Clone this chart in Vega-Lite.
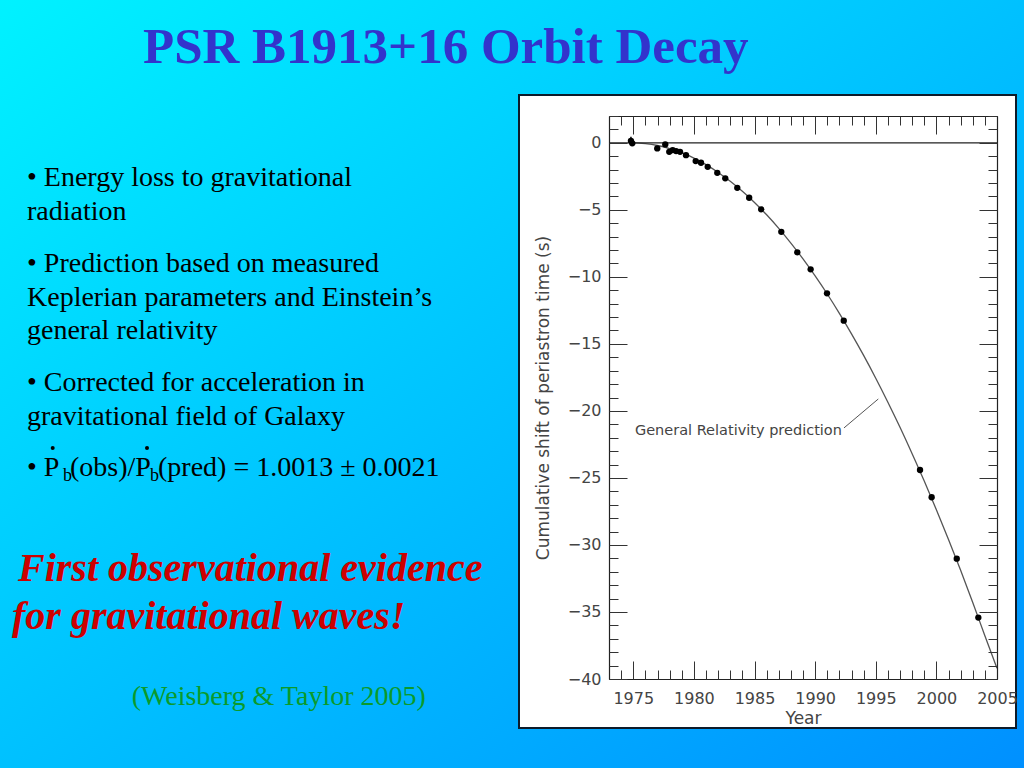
{
  "$schema": "https://vega.github.io/schema/vega-lite/v6.json",
  "width": 1024,
  "height": 768,
  "autosize": {"type": "fit", "contains": "padding"},
  "padding": 0,
  "background": "#00C4FF",
  "view": {
    "stroke": null,
    "fill": {
      "gradient": "linear", "x1": 0, "y1": 0, "x2": 1, "y2": 1,
      "stops": [{"offset": 0, "color": "#00F2FF"}, {"offset": 1, "color": "#0090FF"}]
    }
  },
  "config": {"axis": {"zindex": 2}},
  "datasets": {
    "title": [{"k": 0, "t": "PSR B1913+16 Orbit Decay"}],
    "bullets": [
      {"k": 1, "t": "• Energy loss to gravitational"},
      {"k": 2, "t": "radiation"},
      {"k": 3, "t": "• Prediction based on measured"},
      {"k": 4, "t": "Keplerian parameters and Einstein’s"},
      {"k": 5, "t": "general relativity"},
      {"k": 6, "t": "• Corrected for acceleration in"},
      {"k": 7, "t": "gravitational field of Galaxy"},
      {"k": 8, "t": "• P"},
      {"k": 10, "t": "(obs)/P"},
      {"k": 12, "t": "(pred) = 1.0013 ± 0.0021"}
    ],
    "subs": [{"k": 9, "t": "b"}, {"k": 11, "t": "b"}],
    "dots": [{"k": 13}, {"k": 14}],
    "red": [
      {"k": 15, "t": "First observational evidence"},
      {"k": 16, "t": "for gravitational waves!"}
    ],
    "cite": [{"k": 17, "t": "(Weisberg & Taylor 2005)"}],
    "curve": [
      {"year": 1974.86, "shift": 0}, {"year": 1975, "shift": 0}, {"year": 1976, "shift": -0.06},
      {"year": 1977, "shift": -0.2}, {"year": 1978, "shift": -0.43}, {"year": 1979, "shift": -0.74},
      {"year": 1980, "shift": -1.14}, {"year": 1981, "shift": -1.63}, {"year": 1982, "shift": -2.21},
      {"year": 1983, "shift": -2.87}, {"year": 1984, "shift": -3.62}, {"year": 1985, "shift": -4.45},
      {"year": 1986, "shift": -5.37}, {"year": 1987, "shift": -6.38}, {"year": 1988, "shift": -7.48},
      {"year": 1989, "shift": -8.66}, {"year": 1990, "shift": -9.93}, {"year": 1991, "shift": -11.28},
      {"year": 1992, "shift": -12.72}, {"year": 1993, "shift": -14.25}, {"year": 1994, "shift": -15.86},
      {"year": 1995, "shift": -17.56}, {"year": 1996, "shift": -19.35}, {"year": 1997, "shift": -21.22},
      {"year": 1998, "shift": -23.19}, {"year": 1999, "shift": -25.23}, {"year": 2000, "shift": -27.37},
      {"year": 2001, "shift": -29.59}, {"year": 2002, "shift": -31.89}, {"year": 2003, "shift": -34.29},
      {"year": 2004, "shift": -36.77}, {"year": 2005, "shift": -39.2}
    ],
    "zero": [{"year": 1973, "shift": 0}, {"year": 2005, "shift": 0}],
    "obs": [
      {"year": 1974.81, "shift": 0.15}, {"year": 1974.92, "shift": -0.04}, {"year": 1976.98, "shift": -0.42},
      {"year": 1977.64, "shift": -0.12}, {"year": 1977.97, "shift": -0.67}, {"year": 1978.25, "shift": -0.54},
      {"year": 1978.53, "shift": -0.62}, {"year": 1978.86, "shift": -0.67}, {"year": 1979.35, "shift": -0.92},
      {"year": 1980.15, "shift": -1.36}, {"year": 1980.59, "shift": -1.49}, {"year": 1981.14, "shift": -1.79},
      {"year": 1981.93, "shift": -2.24}, {"year": 1982.59, "shift": -2.65}, {"year": 1983.58, "shift": -3.36},
      {"year": 1984.56, "shift": -4.1}, {"year": 1985.55, "shift": -4.96}, {"year": 1987.21, "shift": -6.64},
      {"year": 1988.53, "shift": -8.17}, {"year": 1989.63, "shift": -9.44}, {"year": 1990.98, "shift": -11.23},
      {"year": 1992.36, "shift": -13.27}, {"year": 1998.65, "shift": -24.41}, {"year": 1999.61, "shift": -26.44},
      {"year": 2001.68, "shift": -31.02}, {"year": 2003.46, "shift": -35.42}
    ],
    "err": [
      {"year": 1974.81, "lo": -0.15, "hi": 0.45},
      {"year": 1976.98, "lo": -0.6, "hi": -0.24}
    ],
    "note": [{"year": 1975.14, "shift": -21.83, "label": "General Relativity prediction"}],
    "leader": [{"year": 1992.38, "shift": -21.27, "year2": 1995.21, "shift2": -19.11}]
  },
  "layer": [
    {
      "layer": [
        {
          "data": {"values": [{"item": "panel"}]},
          "mark": {"type": "rect", "fill": "white", "stroke": "#0d1b2a", "strokeWidth": 2},
          "encoding": {
            "x": {"datum": 18, "type": "quantitative", "axis": null,
              "scale": {"domain": [0,1,2,3,4,5,6,7,8,9,10,11,12,13,14,15,16,17,18,19], "range": [143,27,27,27,27,27,27,27,27,63,70,150,158,52.7,147,18,12,131.7,519,1016], "zero": false, "nice": false}},
            "x2": {"datum": 19},
            "y": {"datum": 18, "type": "quantitative", "axis": null,
              "scale": {"domain": [0,1,2,3,4,5,6,7,8,9,10,11,12,13,14,15,16,17,18,19], "range": [63,186,220,272,306,339,391,425,476,481,476,481,476,448,448,581,629,705,95,728], "zero": false, "nice": false}},
            "y2": {"datum": 19}
          }
        },
        {
          "data": {"name": "title"},
          "mark": {"type": "text", "font": "Liberation Serif", "fontSize": 51, "fontWeight": "bold", "color": "#3333CC", "align": "left", "baseline": "alphabetic"},
          "encoding": {
            "x": {"field": "k", "type": "quantitative", "axis": null,
              "scale": {"domain": [0,1,2,3,4,5,6,7,8,9,10,11,12,13,14,15,16,17,18,19], "range": [143,27,27,27,27,27,27,27,27,63,70,150,158,52.7,147,18,12,131.7,519,1016], "zero": false, "nice": false}},
            "y": {"field": "k", "type": "quantitative", "axis": null,
              "scale": {"domain": [0,1,2,3,4,5,6,7,8,9,10,11,12,13,14,15,16,17,18,19], "range": [63,186,220,272,306,339,391,425,476,481,476,481,476,448,448,581,629,705,95,728], "zero": false, "nice": false}},
            "text": {"field": "t"}
          }
        },
        {
          "data": {"name": "bullets"},
          "mark": {"type": "text", "font": "Liberation Serif", "fontSize": 28, "color": "black", "align": "left", "baseline": "alphabetic"},
          "encoding": {
            "x": {"field": "k", "type": "quantitative", "axis": null,
              "scale": {"domain": [0,1,2,3,4,5,6,7,8,9,10,11,12,13,14,15,16,17,18,19], "range": [143,27,27,27,27,27,27,27,27,63,70,150,158,52.7,147,18,12,131.7,519,1016], "zero": false, "nice": false}},
            "y": {"field": "k", "type": "quantitative", "axis": null,
              "scale": {"domain": [0,1,2,3,4,5,6,7,8,9,10,11,12,13,14,15,16,17,18,19], "range": [63,186,220,272,306,339,391,425,476,481,476,481,476,448,448,581,629,705,95,728], "zero": false, "nice": false}},
            "text": {"field": "t"}
          }
        },
        {
          "data": {"name": "subs"},
          "mark": {"type": "text", "font": "Liberation Serif", "fontSize": 18, "color": "black", "align": "left", "baseline": "alphabetic"},
          "encoding": {
            "x": {"field": "k", "type": "quantitative", "axis": null,
              "scale": {"domain": [0,1,2,3,4,5,6,7,8,9,10,11,12,13,14,15,16,17,18,19], "range": [143,27,27,27,27,27,27,27,27,63,70,150,158,52.7,147,18,12,131.7,519,1016], "zero": false, "nice": false}},
            "y": {"field": "k", "type": "quantitative", "axis": null,
              "scale": {"domain": [0,1,2,3,4,5,6,7,8,9,10,11,12,13,14,15,16,17,18,19], "range": [63,186,220,272,306,339,391,425,476,481,476,481,476,448,448,581,629,705,95,728], "zero": false, "nice": false}},
            "text": {"field": "t"}
          }
        },
        {
          "data": {"name": "dots"},
          "mark": {"type": "point", "shape": "circle", "filled": true, "size": 16, "color": "black", "opacity": 1},
          "encoding": {
            "x": {"field": "k", "type": "quantitative", "axis": null,
              "scale": {"domain": [0,1,2,3,4,5,6,7,8,9,10,11,12,13,14,15,16,17,18,19], "range": [143,27,27,27,27,27,27,27,27,63,70,150,158,52.7,147,18,12,131.7,519,1016], "zero": false, "nice": false}},
            "y": {"field": "k", "type": "quantitative", "axis": null,
              "scale": {"domain": [0,1,2,3,4,5,6,7,8,9,10,11,12,13,14,15,16,17,18,19], "range": [63,186,220,272,306,339,391,425,476,481,476,481,476,448,448,581,629,705,95,728], "zero": false, "nice": false}}
          }
        },
        {
          "data": {"name": "red"},
          "mark": {"type": "text", "font": "Liberation Serif", "fontSize": 40, "fontWeight": "bold", "fontStyle": "italic", "color": "#CC0000", "align": "left", "baseline": "alphabetic"},
          "encoding": {
            "x": {"field": "k", "type": "quantitative", "axis": null,
              "scale": {"domain": [0,1,2,3,4,5,6,7,8,9,10,11,12,13,14,15,16,17,18,19], "range": [143,27,27,27,27,27,27,27,27,63,70,150,158,52.7,147,18,12,131.7,519,1016], "zero": false, "nice": false}},
            "y": {"field": "k", "type": "quantitative", "axis": null,
              "scale": {"domain": [0,1,2,3,4,5,6,7,8,9,10,11,12,13,14,15,16,17,18,19], "range": [63,186,220,272,306,339,391,425,476,481,476,481,476,448,448,581,629,705,95,728], "zero": false, "nice": false}},
            "text": {"field": "t"}
          }
        },
        {
          "data": {"name": "cite"},
          "mark": {"type": "text", "font": "Liberation Serif", "fontSize": 28, "color": "#0B9A2B", "align": "left", "baseline": "alphabetic"},
          "encoding": {
            "x": {"field": "k", "type": "quantitative", "axis": null,
              "scale": {"domain": [0,1,2,3,4,5,6,7,8,9,10,11,12,13,14,15,16,17,18,19], "range": [143,27,27,27,27,27,27,27,27,63,70,150,158,52.7,147,18,12,131.7,519,1016], "zero": false, "nice": false}},
            "y": {"field": "k", "type": "quantitative", "axis": null,
              "scale": {"domain": [0,1,2,3,4,5,6,7,8,9,10,11,12,13,14,15,16,17,18,19], "range": [63,186,220,272,306,339,391,425,476,481,476,481,476,448,448,581,629,705,95,728], "zero": false, "nice": false}},
            "text": {"field": "t"}
          }
        }
      ]
    },
    {
      "layer": [
        {
          "data": {"name": "curve"},
          "mark": {"type": "line", "color": "#555555", "strokeWidth": 1.3, "interpolate": "monotone"},
          "encoding": {
            "x": {"field": "year", "type": "quantitative",
              "scale": {"domain": [1973, 2005], "range": [609, 997], "zero": false, "nice": false},
              "axis": {"orient": "bottom", "offset": -89, "zindex": 2, "values": [1975,1980,1985,1990,1995,2000,2005], "format": "d",
                "tickSize": -18, "tickColor": "#333333", "tickWidth": 1, "domain": true, "domainColor": "#222222", "domainWidth": 1.2, "grid": false,
                "labelFont": "DejaVu Sans", "labelFontSize": 16, "labelColor": "#444444", "labelPadding": 29,
                "labelFlush": false, "labelOverlap": false, "labelBound": false,
                "title": "Year", "titleFont": "DejaVu Sans", "titleFontSize": 17, "titleFontWeight": "normal", "titleColor": "#444444", "titlePadding": 4}},
            "y": {"field": "shift", "type": "quantitative",
              "scale": {"domain": [-40, 2], "range": [679, 116], "zero": false, "nice": false},
              "axis": {"orient": "left", "offset": -609, "zindex": 2, "values": [0,-5,-10,-15,-20,-25,-30,-35,-40], "format": "d",
                "tickSize": -18, "tickColor": "#333333", "tickWidth": 1, "domain": true, "domainColor": "#222222", "domainWidth": 1.2, "grid": false,
                "labelFont": "DejaVu Sans", "labelFontSize": 16, "labelColor": "#444444", "labelPadding": 26,
                "labelFlush": false, "labelOverlap": false, "labelBound": false,
                "title": "Cumulative shift of periastron time (s)", "titleFont": "DejaVu Sans", "titleFontSize": 17, "titleFontWeight": "normal", "titleColor": "#444444", "titlePadding": 15}}
          }
        },
        {
          "data": {"name": "zero"},
          "mark": {"type": "line", "color": "#222222", "strokeWidth": 1.2},
          "encoding": {
            "x": {"field": "year", "type": "quantitative",
              "scale": {"domain": [1973, 2005], "range": [609, 997], "zero": false, "nice": false},
              "axis": {"orient": "bottom", "offset": -89, "zindex": 2, "values": [1973,1974,1975,1976,1977,1978,1979,1980,1981,1982,1983,1984,1985,1986,1987,1988,1989,1990,1991,1992,1993,1994,1995,1996,1997,1998,1999,2000,2001,2002,2003,2004,2005],
                "tickSize": -9, "tickColor": "#333333", "tickWidth": 1, "domain": false, "labels": false, "grid": false, "title": null}},
            "y": {"field": "shift", "type": "quantitative",
              "scale": {"domain": [-40, 2], "range": [679, 116], "zero": false, "nice": false},
              "axis": {"orient": "left", "offset": -609, "zindex": 2, "values": [2,1,0,-1,-2,-3,-4,-5,-6,-7,-8,-9,-10,-11,-12,-13,-14,-15,-16,-17,-18,-19,-20,-21,-22,-23,-24,-25,-26,-27,-28,-29,-30,-31,-32,-33,-34,-35,-36,-37,-38,-39,-40],
                "tickSize": -9, "tickColor": "#333333", "tickWidth": 1, "domain": false, "labels": false, "grid": false, "title": null}}
          }
        },
        {
          "data": {"name": "err"},
          "mark": {"type": "rule", "color": "black", "strokeWidth": 1.5},
          "encoding": {
            "x": {"field": "year", "type": "quantitative",
              "scale": {"domain": [1973, 2005], "range": [609, 997], "zero": false, "nice": false},
              "axis": {"orient": "top", "offset": -116, "zindex": 2, "values": [1975,1980,1985,1990,1995,2000,2005],
                "tickSize": -18, "tickColor": "#333333", "tickWidth": 1, "domain": true, "domainColor": "#222222", "domainWidth": 1.2, "labels": false, "grid": false, "title": null}},
            "y": {"field": "lo", "type": "quantitative",
              "scale": {"domain": [-40, 2], "range": [679, 116], "zero": false, "nice": false},
              "axis": {"orient": "right", "offset": -27, "zindex": 2, "values": [0,-5,-10,-15,-20,-25,-30,-35,-40],
                "tickSize": -18, "tickColor": "#333333", "tickWidth": 1, "domain": true, "domainColor": "#222222", "domainWidth": 1.2, "labels": false, "grid": false, "title": null}},
            "y2": {"field": "hi"}
          }
        },
        {
          "data": {"name": "obs"},
          "mark": {"type": "point", "shape": "circle", "filled": true, "size": 40, "color": "black", "opacity": 1},
          "encoding": {
            "x": {"field": "year", "type": "quantitative",
              "scale": {"domain": [1973, 2005], "range": [609, 997], "zero": false, "nice": false},
              "axis": {"orient": "top", "offset": -116, "zindex": 2, "values": [1973,1974,1975,1976,1977,1978,1979,1980,1981,1982,1983,1984,1985,1986,1987,1988,1989,1990,1991,1992,1993,1994,1995,1996,1997,1998,1999,2000,2001,2002,2003,2004,2005],
                "tickSize": -9, "tickColor": "#333333", "tickWidth": 1, "domain": false, "labels": false, "grid": false, "title": null}},
            "y": {"field": "shift", "type": "quantitative",
              "scale": {"domain": [-40, 2], "range": [679, 116], "zero": false, "nice": false},
              "axis": {"orient": "right", "offset": -27, "zindex": 2, "values": [2,1,0,-1,-2,-3,-4,-5,-6,-7,-8,-9,-10,-11,-12,-13,-14,-15,-16,-17,-18,-19,-20,-21,-22,-23,-24,-25,-26,-27,-28,-29,-30,-31,-32,-33,-34,-35,-36,-37,-38,-39,-40],
                "tickSize": -9, "tickColor": "#333333", "tickWidth": 1, "domain": false, "labels": false, "grid": false, "title": null}}
          }
        },
        {
          "data": {"name": "note"},
          "mark": {"type": "text", "font": "DejaVu Sans", "fontSize": 14.5, "color": "#444444", "align": "left", "baseline": "alphabetic"},
          "encoding": {
            "x": {"field": "year", "type": "quantitative",
              "scale": {"domain": [1973, 2005], "range": [609, 997], "zero": false, "nice": false}, "axis": null},
            "y": {"field": "shift", "type": "quantitative",
              "scale": {"domain": [-40, 2], "range": [679, 116], "zero": false, "nice": false}, "axis": null},
            "text": {"field": "label"}
          }
        },
        {
          "data": {"name": "leader"},
          "mark": {"type": "rule", "color": "#555555", "strokeWidth": 1},
          "encoding": {
            "x": {"field": "year", "type": "quantitative",
              "scale": {"domain": [1973, 2005], "range": [609, 997], "zero": false, "nice": false}, "axis": null},
            "x2": {"field": "year2"},
            "y": {"field": "shift", "type": "quantitative",
              "scale": {"domain": [-40, 2], "range": [679, 116], "zero": false, "nice": false}, "axis": null},
            "y2": {"field": "shift2"}
          }
        }
      ],
      "resolve": {"axis": {"x": "independent", "y": "independent"}}
    }
  ],
  "resolve": {
    "scale": {"x": "independent", "y": "independent"},
    "axis": {"x": "independent", "y": "independent"}
  }
}
